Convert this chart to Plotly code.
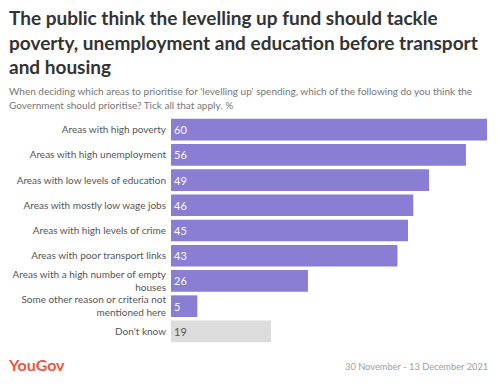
import plotly.graph_objects as go

categories = [
    "Areas with high poverty",
    "Areas with high unemployment",
    "Areas with low levels of education",
    "Areas with mostly low wage jobs",
    "Areas with high levels of crime",
    "Areas with poor transport links",
    "Areas with a high number of empty<br>houses",
    "Some other reason or criteria not<br>mentioned here",
    "Don't know",
]
values = [60, 56, 49, 46, 45, 43, 26, 5, 19]
bar_colors = ["#8a7dd4"] * 8 + ["#dcdcdc"]
text_colors = ["#ffffff"] * 8 + ["#555555"]

title_lines = [
    "The public think the levelling up fund should tackle",
    "poverty, unemployment and education before transport",
    "and housing",
]
subtitle_lines = [
    "When deciding which areas to prioritise for 'levelling up' spending, which of the following do you think the",
    "Government should prioritise? Tick all that apply. %",
]
source = "30 November - 13 December 2021"

W, H = 501, 385
L, R, T, B = 171, 14, 117, 41
pw, ph = W - L - R, H - T - B

def px(x):
    return (x - L) / pw

def py(y):
    return (H - B - y) / ph

fig = go.Figure(go.Bar(
    x=values, y=categories, orientation="h",
    marker=dict(color=bar_colors, line=dict(width=0)),
    text=[str(v) for v in values],
    textposition="inside", insidetextanchor="start",
    textfont=dict(color=text_colors, size=11, family="Lato"),
    hoverinfo="skip",
))

annotations = []
for i, line in enumerate(title_lines):
    annotations.append(dict(
        text="<b>" + line + "</b>", xref="paper", yref="paper", x=px(7), y=py(18 + 24 * i),
        xanchor="left", yanchor="middle", align="left", showarrow=False,
        font=dict(size=19, color="#333333", family="Lato")))
for i, line in enumerate(subtitle_lines):
    annotations.append(dict(
        text=line, xref="paper", yref="paper", x=px(7), y=py(91.5 + 13.3 * i),
        xanchor="left", yanchor="middle", align="left", showarrow=False,
        font=dict(size=10, color="#777777", family="Lato")))
annotations += [
    dict(text="<b>YouGov</b>", xref="paper", yref="paper", x=px(6), y=py(364),
         xanchor="left", yanchor="middle", showarrow=False,
         font=dict(size=16, color="#f0533f", family="Lato")),
    dict(text=source, xref="paper", yref="paper", x=px(490), y=py(366),
         xanchor="right", yanchor="middle", showarrow=False,
         font=dict(size=9.3, color="#a0a0a0", family="Lato")),
]

fig.update_layout(
    width=W, height=H,
    margin=dict(l=L, r=R, t=T, b=B),
    plot_bgcolor="white", paper_bgcolor="white",
    bargap=0.14,
    showlegend=False,
    font=dict(family="Lato", color="#555555"),
    xaxis=dict(range=[0, 60], visible=False, fixedrange=True),
    yaxis=dict(categoryorder="array", categoryarray=categories, autorange="reversed",
               tickfont=dict(size=10, color="#555555", family="Lato"),
               ticks="", showgrid=False, showline=False, ticklabelstandoff=4,
               fixedrange=True),
    annotations=annotations,
)

fig.write_html("out.html", config={"displayModeBar": False},
               post_script="document.body.style.margin='0';")
